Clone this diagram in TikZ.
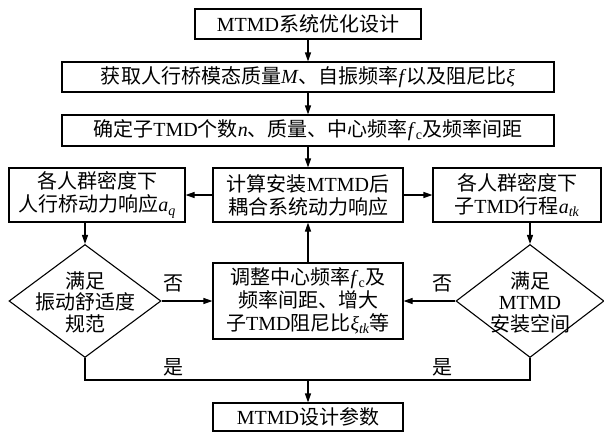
\documentclass[tikz,border=0pt]{standalone}
\usepackage{fontspec}
\setmainfont{Liberation Serif}
\newfontfamily\cjk{Noto Sans CJK SC}
\usetikzlibrary{arrows.meta,shapes.geometric}
\newcommand\zh[1]{{\cjk #1}}
\tikzset{
  every node/.style={font=\fontsize{20}{23}\selectfont},
  flowbox/.style={draw, line width=1.1pt, inner sep=0pt, align=center},
  flowdia/.style={draw, line width=1.1pt, shape=diamond, inner sep=0pt},
  flowline/.style={line width=1.1pt},
  flowarrow/.style={line width=1.1pt, -{Triangle[length=9pt,width=6pt]}},
  lbl/.style={inner sep=0pt}
}
\begin{document}
\begin{tikzpicture}[x=1pt,y=-1pt]
\fill[white] (0,0) rectangle (604,432);
\useasboundingbox (0,0) rectangle (604,432);

\node[flowbox, minimum width=226pt, minimum height=30pt] (b1) at (308,24)
  {MTMD\zh{系统优化设计}};
\node[flowbox, minimum width=492pt, minimum height=30pt] (b2) at (308,77)
  {\zh{获取人行桥模态质量}\textit{M}\zh{、自振频率}\textit{f}\zh{以及阻尼比}\textit{ξ}};
\node[flowbox, minimum width=492pt, minimum height=31pt] (b3) at (308,130.5)
  {\zh{确定子}TMD\zh{个数}\textit{n}\zh{、质量、中心频率}\textit{f}\textsubscript{c}\zh{及频率间距}};

\node[flowbox, minimum width=176pt, minimum height=54pt] (L) at (97,195)
  {\zh{各人群密度下}\\\zh{人行桥动力响应}\textit{a}\textsubscript{\textit{q}}};
\node[flowbox, minimum width=190pt, minimum height=54pt] (C) at (308,195)
  {\zh{计算安装}MTMD\zh{后}\\\zh{耦合系统动力响应}};
\node[flowbox, minimum width=168pt, minimum height=54pt] (R) at (517,195)
  {\zh{各人群密度下}\\\zh{子}TMD\zh{行程}\textit{a}\textsubscript{\textit{tk}}};

\node[flowdia, minimum width=152pt, minimum height=113pt] (DL) at (85,301) {};
\node[lbl, align=center, font=\fontsize{20}{21.5}\selectfont] (DLt) at (85,302)
  {\zh{满足}\\\zh{振动舒适度}\\\zh{规范}};
\node[flowdia, minimum width=148pt, minimum height=113pt] (DR) at (530,301) {};
\node[lbl, align=center, font=\fontsize{20}{21.5}\selectfont] (DRt) at (530,302)
  {\zh{满足}\\MTMD\\\zh{安装空间}};

\node[flowbox, minimum width=190pt, minimum height=76pt] (A) at (308,301)
  {\zh{调整中心频率}\textit{f}\textsubscript{c}\zh{及}\\\zh{频率间距、增大}\\\zh{子}TMD\zh{阻尼比}\textit{ξ}\textsubscript{\textit{tk}}\zh{等}};

\node[flowbox, minimum width=190pt, minimum height=28pt] (E) at (308,417)
  {MTMD\zh{设计参数}};

\node[lbl] (no1) at (173,283) {\zh{否}};
\node[lbl] (no2) at (442,283) {\zh{否}};
\node[lbl] (yes1) at (173,367) {\zh{是}};
\node[lbl] (yes2) at (442,367) {\zh{是}};

\coordinate (jl) at (85,380);
\coordinate (jr) at (530,380);
\coordinate (jm) at (308,380);

\draw[flowarrow] (b1) -- (b2);
\draw[flowarrow] (b2) -- (b3);
\draw[flowarrow] (b3) -- (C);
\draw[flowarrow] (C) -- (L);
\draw[flowarrow] (C) -- (R);
\draw[flowarrow] (L.south -| DL.north) -- (DL.north);
\draw[flowarrow] (R.south -| DR.north) -- (DR.north);
\draw[flowarrow] (DL.east) -- (A.west |- DL.east);
\draw[flowarrow] (DR.west) -- (A.east |- DR.west);
\draw[flowarrow] (A) -- (C);
\draw[flowline] (DL.south) -- (jl) -- (jr) -- (DR.south);
\draw[flowarrow] (jm) -- (E);
\end{tikzpicture}
\end{document}
